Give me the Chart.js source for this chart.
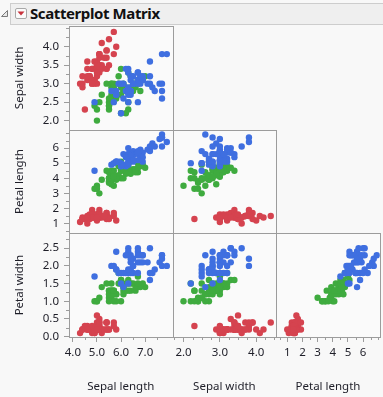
<!DOCTYPE html>
<html>
<head>
<meta charset="utf-8">
<script src="https://cdn.jsdelivr.net/npm/chart.js@4.4.1/dist/chart.umd.min.js"></script>
<style>
html,body{margin:0;padding:0;background:#f8f8f8;width:383px;height:397px;overflow:hidden;}
#wrap{position:relative;width:383px;height:397px;}
#c{position:absolute;left:0;top:0;}
#hdr{position:absolute;left:10px;top:3px;width:380px;height:22px;background:#efefef;border:1px solid #cdcdcd;box-sizing:border-box;}
#disc{position:absolute;left:0px;top:9px;}
#btn{position:absolute;left:15px;top:8px;width:12px;height:11px;border:1px solid #a8a8a8;border-radius:2px;background:#fbfbfb;box-sizing:border-box;}
#ttl{position:absolute;left:30px;top:3px;height:21px;line-height:21px;font-family:'Segoe UI','Noto Sans',sans-serif;font-weight:bold;font-size:15px;color:#111;white-space:nowrap;letter-spacing:-0.4px;}
</style>
</head>
<body>
<div id="wrap">
<canvas id="c" width="383" height="397"></canvas>
<div id="hdr"></div>
<svg id="disc" width="9" height="9"><polygon points="7.5,1.5 7.5,7.5 1.5,7.5" fill="#e8e8e8" stroke="#7a7a7a" stroke-width="1"/></svg>
<div id="btn"><svg width="10" height="9" style="position:absolute;left:0;top:0"><polygon points="1.5,2.5 8.5,2.5 5,6.5" fill="#c8323c"/></svg></div>
<div id="ttl">Scatterplot Matrix</div>
</div>
<script>
// ---- Data (Fisher's iris) ----
const species = ['setosa', 'versicolor', 'virginica'];
const setosaSepalLength = [5.1,4.9,4.7,4.6,5.0,5.4,4.6,5.0,4.4,4.9,5.4,4.8,4.8,4.3,5.8,5.7,5.4,5.1,5.7,5.1,5.4,5.1,4.6,5.1,4.8,5.0,5.0,5.2,5.2,4.7,4.8,5.4,5.2,5.5,4.9,5.0,5.5,4.9,4.4,5.1,5.0,4.5,4.4,5.0,5.1,4.8,5.1,4.6,5.3,5.0];
const setosaSepalWidth  = [3.5,3.0,3.2,3.1,3.6,3.9,3.4,3.4,2.9,3.1,3.7,3.4,3.0,3.0,4.0,4.4,3.9,3.5,3.8,3.8,3.4,3.7,3.6,3.3,3.4,3.0,3.4,3.5,3.4,3.2,3.1,3.4,4.1,4.2,3.1,3.2,3.5,3.6,3.0,3.4,3.5,2.3,3.2,3.5,3.8,3.0,3.8,3.2,3.7,3.3];
const setosaPetalLength = [1.4,1.4,1.3,1.5,1.4,1.7,1.4,1.5,1.4,1.5,1.5,1.6,1.4,1.1,1.2,1.5,1.3,1.4,1.7,1.5,1.7,1.5,1.0,1.7,1.9,1.6,1.6,1.5,1.4,1.6,1.6,1.5,1.5,1.4,1.5,1.2,1.3,1.4,1.3,1.5,1.3,1.3,1.3,1.6,1.9,1.4,1.6,1.4,1.5,1.4];
const setosaPetalWidth  = [0.2,0.2,0.2,0.2,0.2,0.4,0.3,0.2,0.2,0.1,0.2,0.2,0.1,0.1,0.2,0.4,0.4,0.3,0.3,0.3,0.2,0.4,0.2,0.5,0.2,0.2,0.4,0.2,0.2,0.2,0.2,0.4,0.1,0.2,0.2,0.2,0.2,0.1,0.2,0.2,0.3,0.3,0.2,0.6,0.4,0.3,0.2,0.2,0.2,0.2];
const versicolorSepalLength = [7.0,6.4,6.9,5.5,6.5,5.7,6.3,4.9,6.6,5.2,5.0,5.9,6.0,6.1,5.6,6.7,5.6,5.8,6.2,5.6,5.9,6.1,6.3,6.1,6.4,6.6,6.8,6.7,6.0,5.7,5.5,5.5,5.8,6.0,5.4,6.0,6.7,6.3,5.6,5.5,5.5,6.1,5.8,5.0,5.6,5.7,5.7,6.2,5.1,5.7];
const versicolorSepalWidth  = [3.2,3.2,3.1,2.3,2.8,2.8,3.3,2.4,2.9,2.7,2.0,3.0,2.2,2.9,2.9,3.1,3.0,2.7,2.2,2.5,3.2,2.8,2.5,2.8,2.9,3.0,2.8,3.0,2.9,2.6,2.4,2.4,2.7,2.7,3.0,3.4,3.1,2.3,3.0,2.5,2.6,3.0,2.6,2.3,2.7,3.0,2.9,2.9,2.5,2.8];
const versicolorPetalLength = [4.7,4.5,4.9,4.0,4.6,4.5,4.7,3.3,4.6,3.9,3.5,4.2,4.0,4.7,3.6,4.4,4.5,4.1,4.5,3.9,4.8,4.0,4.9,4.7,4.3,4.4,4.8,5.0,4.5,3.5,3.8,3.7,3.9,5.1,4.5,4.5,4.7,4.4,4.1,4.0,4.4,4.6,4.0,3.3,4.2,4.2,4.2,4.3,3.0,4.1];
const versicolorPetalWidth  = [1.4,1.5,1.5,1.3,1.5,1.3,1.6,1.0,1.3,1.4,1.0,1.5,1.0,1.4,1.3,1.4,1.5,1.0,1.5,1.1,1.8,1.3,1.5,1.2,1.3,1.4,1.4,1.7,1.5,1.0,1.1,1.0,1.2,1.6,1.5,1.6,1.5,1.3,1.3,1.3,1.2,1.4,1.2,1.0,1.3,1.2,1.3,1.3,1.1,1.3];
const virginicaSepalLength = [6.3,5.8,7.1,6.3,6.5,7.6,4.9,7.3,6.7,7.2,6.5,6.4,6.8,5.7,5.8,6.4,6.5,7.7,7.7,6.0,6.9,5.6,7.7,6.3,6.7,7.2,6.2,6.1,6.4,7.2,7.4,7.9,6.4,6.3,6.1,7.7,6.3,6.4,6.0,6.9,6.7,6.9,5.8,6.8,6.7,6.7,6.3,6.5,6.2,5.9];
const virginicaSepalWidth  = [3.3,2.7,3.0,2.9,3.0,3.0,2.5,2.9,2.5,3.6,3.2,2.7,3.0,2.5,2.8,3.2,3.0,3.8,2.6,2.2,3.2,2.8,2.8,2.7,3.3,3.2,2.8,3.0,2.8,3.0,2.8,3.8,2.8,2.8,2.6,3.0,3.4,3.1,3.0,3.1,3.1,3.1,2.7,3.2,3.3,3.0,2.5,3.0,3.4,3.0];
const virginicaPetalLength = [6.0,5.1,5.9,5.6,5.8,6.6,4.5,6.3,5.8,6.1,5.1,5.3,5.5,5.0,5.1,5.3,5.5,6.7,6.9,5.0,5.7,4.9,6.7,4.9,5.7,6.0,4.8,4.9,5.6,5.8,6.1,6.4,5.6,5.1,5.6,6.1,5.6,5.5,4.8,5.4,5.6,5.1,5.1,5.9,5.7,5.2,5.0,5.2,5.4,5.1];
const virginicaPetalWidth  = [2.5,1.9,2.1,1.8,2.2,2.1,1.7,1.8,1.8,2.5,2.0,1.9,2.1,2.0,2.4,2.3,1.8,2.2,2.3,1.5,2.3,2.0,2.0,1.8,2.1,1.8,1.8,1.8,2.1,1.6,1.9,2.0,2.2,1.5,1.4,2.3,2.4,1.8,1.8,2.1,2.4,2.3,1.9,2.3,2.5,2.3,1.9,2.0,2.3,1.8];

const variableNames = ['Sepal length', 'Sepal width', 'Petal length', 'Petal width'];

// tick values & labels
const sepalLengthTicks = [4, 5, 6, 7];
const sepalLengthTickLabels = ['4.0', '5.0', '6.0', '7.0'];
const sepalLengthMinor = [4.5, 5.5, 6.5, 7.5];
const sepalWidthXTicks = [2, 3, 4];
const sepalWidthXTickLabels = ['2.0', '3.0', '4.0'];
const sepalWidthXMinor = [1.75, 2.25, 2.5, 2.75, 3.25, 3.5, 3.75, 4.25, 4.5];
const sepalWidthYTicks = [2.0, 2.5, 3.0, 3.5, 4.0];
const sepalWidthYTickLabels = ['2.0', '2.5', '3.0', '3.5', '4.0'];
const sepalWidthYMinor = [2.25, 2.75, 3.25, 3.75, 4.25, 4.5];
const petalLengthTicks = [1, 2, 3, 4, 5, 6];
const petalLengthTickLabels = ['1', '2', '3', '4', '5', '6'];
const petalLengthMinor = [0.5, 1.5, 2.5, 3.5, 4.5, 5.5, 6.5, 7.0];
const petalWidthTicks = [0.0, 0.5, 1.0, 1.5, 2.0, 2.5];
const petalWidthTickLabels = ['0.0', '0.5', '1.0', '1.5', '2.0', '2.5'];
const petalWidthMinor = [0.25, 0.75, 1.25, 1.75, 2.25, 2.75];

// ---- Style ----
const colors = { setosa: '#d5434f', versicolor: '#3fab3f', virginica: '#3f6fe0' };
const FONT = "'Segoe UI','Noto Sans',sans-serif";
const tickFont = { family: FONT, size: 11.5 };
const titleFont = { family: FONT, size: 11.5 };
const textColor = '#1e1e28';
const lineGray = '#9c9c9c';

const bySpecies = {
  setosa:     [setosaSepalLength, setosaSepalWidth, setosaPetalLength, setosaPetalWidth],
  versicolor: [versicolorSepalLength, versicolorSepalWidth, versicolorPetalLength, versicolorPetalWidth],
  virginica:  [virginicaSepalLength, virginicaSepalWidth, virginicaPetalLength, virginicaPetalWidth]
};

// panels: [xVarIndex, yVarIndex, xScaleId, yScaleId]
const xIds = ['xSL', 'xSW', 'xPL'];
const yIds = ['ySW', 'yPL', 'yPW'];
const panels = [];
for (let r = 0; r < 3; r++) for (let c = 0; c <= r; c++) panels.push([c, r + 1, xIds[c], yIds[r]]);

const datasets = [];
panels.forEach(([xi, yi, xId, yId]) => {
  species.forEach((sp, k) => {
    const xs = bySpecies[sp][xi], ys = bySpecies[sp][yi];
    datasets.push({
      label: sp,
      data: xs.map((v, i) => ({ x: v, y: ys[i] })),
      xAxisID: xId, yAxisID: yId,
      backgroundColor: colors[sp], borderColor: colors[sp],
      pointRadius: 3.2, pointBorderWidth: 0, pointHoverRadius: 3.2,
      order: 2 - k
    });
  });
});

function axis(opts) {
  const horiz = opts.position === 'bottom';
  return {
    type: 'linear', position: opts.position, stack: horiz ? 'cols' : 'rows', stackWeight: 1,
    weight: opts.weight || 0,
    min: opts.min, max: opts.max,
    afterBuildTicks: s => { s.ticks = opts.ticks.map(v => ({ value: v })); },
    afterFit: s => {
      if (horiz) s.height = 60; else s.width = 69;
      s.paddingLeft = 0; s.paddingRight = 0; s.paddingTop = 0; s.paddingBottom = 0;
    },
    grid: { display: true, drawOnChartArea: false, drawTicks: true, tickLength: 5, color: lineGray, tickColor: lineGray, tickWidth: 1 },
    border: { display: false },
    ticks: {
      autoSkip: false, maxRotation: 0, minRotation: 0, padding: horiz ? 4 : 5,
      font: tickFont, color: textColor,
      callback: (v, i) => opts.labels[i]
    },
    title: {
      display: true, text: opts.title, font: titleFont, color: textColor,
      padding: horiz ? { top: 0, bottom: 3 } : { top: 13, bottom: 0 }
    }
  };
}

const minorTicks = {
  xSL: sepalLengthMinor, xSW: sepalWidthXMinor, xPL: petalLengthMinor,
  ySW: sepalWidthYMinor, yPL: petalLengthMinor, yPW: petalWidthMinor
};

const framePlugin = {
  id: 'frames',
  beforeDatasetsDraw(chart) {
    const ctx = chart.ctx;
    ctx.save();
    ctx.fillStyle = '#fafafa';
    panels.forEach(([, , xId, yId]) => {
      const xs = chart.scales[xId], ys = chart.scales[yId];
      ctx.fillRect(Math.round(xs.left), Math.round(ys.top), Math.round(xs.right) - Math.round(xs.left), Math.round(ys.bottom) - Math.round(ys.top));
    });
    ctx.restore();
  },
  afterDatasetsDraw(chart) {
    const ctx = chart.ctx;
    ctx.save();
    ctx.strokeStyle = lineGray; ctx.lineWidth = 1;
    panels.forEach(([, , xId, yId]) => {
      const xs = chart.scales[xId], ys = chart.scales[yId];
      const l = Math.round(xs.left), r = Math.round(xs.right), t = Math.round(ys.top), b = Math.round(ys.bottom);
      ctx.strokeRect(l + 0.5, t + 0.5, r - l, b - t);
    });
    // minor ticks
    Object.entries(minorTicks).forEach(([id, vals]) => {
      const s = chart.scales[id];
      ctx.beginPath();
      vals.forEach(v => {
        if (v < s.min || v > s.max) return;
        const p = Math.round(s.getPixelForValue(v)) + 0.5;
        if (s.isHorizontal()) { ctx.moveTo(p, s.top); ctx.lineTo(p, s.top + 3); }
        else { ctx.moveTo(s.right, p); ctx.lineTo(s.right - 3, p); }
      });
      ctx.stroke();
    });
    ctx.restore();
  }
};

new Chart(document.getElementById('c'), {
  type: 'scatter',
  data: { datasets },
  options: {
    responsive: false, animation: false, devicePixelRatio: 1,
    layout: { padding: { top: 26, right: 2, bottom: 0, left: 0 } },
    plugins: { legend: { display: false }, tooltip: { enabled: false } },
    events: [],
    scales: {
      xSL: axis({ position: 'bottom', min: 3.84, max: 8.14, ticks: sepalLengthTicks, labels: sepalLengthTickLabels, title: variableNames[0] }),
      xSW: axis({ position: 'bottom', min: 1.70, max: 4.55, ticks: sepalWidthXTicks, labels: sepalWidthXTickLabels, title: variableNames[1] }),
      xPL: axis({ position: 'bottom', min: 0.27, max: 7.10, ticks: petalLengthTicks, labels: petalLengthTickLabels, title: variableNames[2] }),
      ySW: axis({ position: 'left', weight: 3, min: 1.755, max: 4.56, ticks: sepalWidthYTicks, labels: sepalWidthYTickLabels, title: variableNames[1] }),
      yPL: axis({ position: 'left', weight: 2, min: 0.35, max: 7.22, ticks: petalLengthTicks, labels: petalLengthTickLabels, title: variableNames[2] }),
      yPW: axis({ position: 'left', weight: 1, min: -0.01, max: 2.92, ticks: petalWidthTicks, labels: petalWidthTickLabels, title: variableNames[3] })
    }
  },
  plugins: [framePlugin]
});
</script>
</body>
</html>
